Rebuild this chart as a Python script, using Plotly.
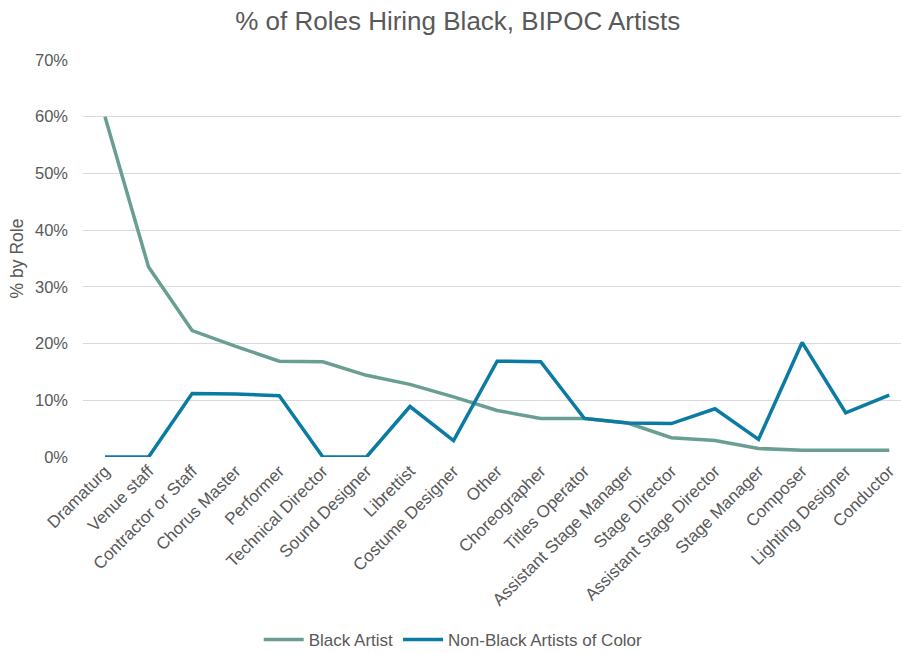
import plotly.graph_objects as go

# Roles, ordered by share of Black artists hired
roles = [
    "Dramaturg", "Venue staff", "Contractor or Staff", "Chorus Master", "Performer",
    "Technical Director", "Sound Designer", "Librettist", "Costume Designer", "Other",
    "Choreographer", "Titles Operator", "Assistant Stage Manager", "Stage Director",
    "Assistant Stage Director", "Stage Manager", "Composer", "Lighting Designer", "Conductor",
]

# Share of roles hired (fraction)
black_artist = [0.600, 0.335, 0.223, 0.195, 0.169, 0.168, 0.144, 0.128, 0.106, 0.082,
                0.068, 0.068, 0.060, 0.034, 0.029, 0.015, 0.012, 0.012, 0.012]
non_black_poc = [0.0, 0.0, 0.112, 0.111, 0.108, 0.0, 0.0, 0.089, 0.029, 0.169,
                 0.168, 0.068, 0.060, 0.059, 0.085, 0.031, 0.202, 0.078, 0.109]

series_names = ["Black Artist", "Non-Black Artists of Color"]
series_colors = ["#6A9E93", "#0B7BA3"]
y_ticks = [0, 0.1, 0.2, 0.3, 0.4, 0.5, 0.6, 0.7]

FONT = "Liberation Sans, Arial, sans-serif"
GREY = "#595959"

fig = go.Figure()
for name, vals, col in zip(series_names, [black_artist, non_black_poc], series_colors):
    fig.add_trace(go.Scatter(
        x=list(range(len(roles))), y=vals, name=name, mode="lines",
        line=dict(color=col, width=3.5),
    ))

fig.update_layout(
    width=901, height=653,
    paper_bgcolor="white", plot_bgcolor="white",
    margin=dict(l=83, r=0, t=59.5, b=196.3),
    font=dict(family=FONT, color=GREY),
    title=dict(text="% of Roles Hiring Black, BIPOC Artists", x=0.508, xref="container",
               xanchor="center", y=0.968, yref="container", yanchor="middle",
               font=dict(size=26, color=GREY, family=FONT)),
    xaxis=dict(
        tickmode="array", tickvals=list(range(len(roles))), ticktext=roles,
        tickangle=-45, tickfont=dict(size=17, color=GREY),
        range=[-0.505, 18.27], showgrid=False, zeroline=False, showline=False,
        fixedrange=True,
    ),
    yaxis=dict(
        tickmode="array", tickvals=y_ticks, tickformat=".0%",
        tickfont=dict(size=16.5, color=GREY), range=[0, 0.7],
        showgrid=True, gridcolor="#D9D9D9", gridwidth=1.3,
        zeroline=False, showline=False, ticklabelstandoff=14,
        title=dict(text="% by Role", font=dict(size=17.5, color=GREY), standoff=6),
    ),
    legend=dict(
        orientation="h", x=0.503, xref="container", xanchor="center",
        y=0.02, yref="container", yanchor="middle",
        font=dict(size=17, color=GREY), itemwidth=40, tracegroupgap=0,
    ),
    showlegend=True,
)

fig.write_html("out.html")
